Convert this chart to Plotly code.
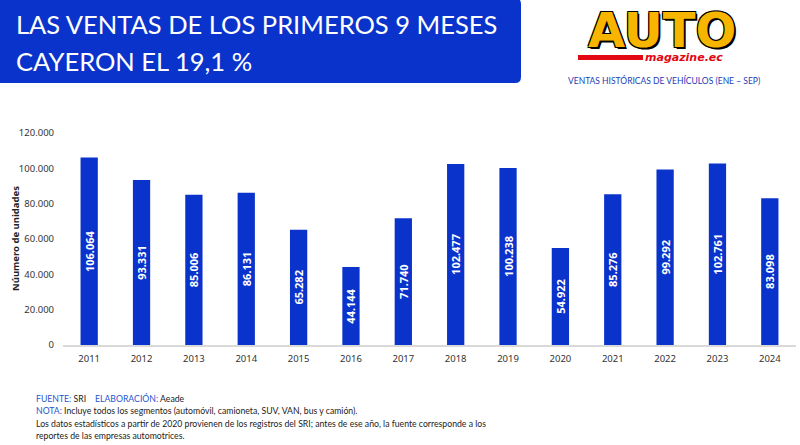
import plotly.graph_objects as go

years = ["2011", "2012", "2013", "2014", "2015", "2016", "2017", "2018",
         "2019", "2020", "2021", "2022", "2023", "2024"]
sales = [106064, 93331, 85006, 86131, 65282, 44144, 71740, 102477,
         100238, 54922, 85276, 99292, 102761, 83098]
y_ticks = [0, 20000, 40000, 60000, 80000, 100000, 120000]

W, H = 800, 445
L, R, T, B = 63, 4, 133, 100
PW, PH = W - L - R, H - T - B


def X(px):
    return (px - L) / PW


def Y(py):
    return (H - B - py) / PH


BLUE = "#0a33cc"

fig = go.Figure(go.Bar(
    x=years, y=sales, width=0.33,
    marker=dict(color=BLUE, line=dict(width=0)),
    texttemplate="%{y:,.0f}", textposition="inside", textangle=-90,
    insidetextanchor="middle", constraintext="none",
    textfont=dict(family="Noto Sans", size=11, color="white", weight="bold"),
    hoverinfo="skip",
))

# Title box with rounded right corners
x0, x1, y0, y1, r = -2, 521, -2, 83, 6
path = (f"M {X(x0)},{Y(y0)} L {X(x1 - r)},{Y(y0)} Q {X(x1)},{Y(y0)} {X(x1)},{Y(y0 + r)} "
        f"L {X(x1)},{Y(y1 - r)} Q {X(x1)},{Y(y1)} {X(x1 - r)},{Y(y1)} L {X(x0)},{Y(y1)} Z")
shapes = [
    dict(type="path", xref="paper", yref="paper", path=path,
         fillcolor=BLUE, line=dict(width=0), layer="above"),
    # red bar in logo
    dict(type="rect", xref="paper", yref="paper", x0=X(578), x1=X(643),
         y0=Y(60), y1=Y(55), fillcolor="#e30613", line=dict(width=0)),
]

ann = []
title_font = dict(family="Lato", size=25.5, color="white")
ann.append(dict(text="LAS VENTAS DE LOS PRIMEROS 9 MESES", x=X(14), y=Y(24),
                xref="paper", yref="paper", xanchor="left", yanchor="middle",
                showarrow=False, font=title_font))
ann.append(dict(text="CAYERON EL 19,1 %", x=X(14), y=Y(61),
                xref="paper", yref="paper", xanchor="left", yanchor="middle",
                showarrow=False, font=title_font))

# Logo
ann.append(dict(text="AUTO", x=X(662), y=Y(30), xref="paper", yref="paper",
                xanchor="center", yanchor="middle", showarrow=False, borderpad=0,
                font=dict(family="DejaVu Sans", size=48, color="#f7b500", weight="bold",
                          shadow="1px 1px 0 #000, -1px -1px 0 #000, 1px -1px 0 #000, -1px 1px 0 #000, 2px 2px 0 #000")))
ann.append(dict(text="magazine.ec", x=X(644), y=Y(58), xref="paper", yref="paper",
                xanchor="left", yanchor="middle", showarrow=False, borderpad=0,
                font=dict(family="DejaVu Sans", size=11, color="#e30613", weight="bold",
                          style="italic")))
ann.append(dict(text="VENTAS HISTÓRICAS DE VEHÍCULOS (ENE – SEP)", x=X(664), y=Y(80),
                xref="paper", yref="paper", xanchor="center", yanchor="middle",
                showarrow=False, font=dict(family="Lato", size=8.5, color="#1a3cb8")))

# Y axis title
ann.append(dict(text="<b>Núumero de unidades</b>", x=X(15), y=Y(239),
                xref="paper", yref="paper", xanchor="center", yanchor="middle",
                textangle=-90, showarrow=False,
                font=dict(family="Noto Sans", size=9.5, color="#222")))

# Footer
fb = "#1f55d0"
foot_font = dict(family="Lato", size=8.7, color="#222")
lines = [
    f"<span style='color:{fb}'>FUENTE:</span> SRI    <span style='color:{fb}'>ELABORACIÓN:</span> Aeade",
    f"<span style='color:{fb}'>NOTA:</span> Incluye todos los segmentos (automóvil, camioneta, SUV, VAN, bus y camión).",
    "Los datos estadísticos a partir de 2020 provienen de los registros del SRI; antes de ese año, la fuente corresponde a los",
    "reportes de las empresas automotrices.",
]
for i, t in enumerate(lines):
    ann.append(dict(text=t.replace("    ", "&nbsp;&nbsp;&nbsp;&nbsp;"), x=X(34), y=Y(398 + i * 12.6),
                    xref="paper", yref="paper", xanchor="left", yanchor="middle",
                    showarrow=False, font=foot_font))

fig.update_layout(
    width=W, height=H, margin=dict(l=L, r=R, t=T, b=B),
    paper_bgcolor="white", plot_bgcolor="white",
    separators=",.",
    showlegend=False,
    shapes=shapes, annotations=ann,
    xaxis=dict(type="category", showgrid=False, showline=True, linecolor="#d9d9d9",
               linewidth=1.5, ticks="", ticklabelstandoff=4,
               tickfont=dict(family="Noto Sans", size=9.5, color="#333"),
               fixedrange=True),
    yaxis=dict(range=[0, 120000], tickvals=y_ticks, tickformat=",.0f", showgrid=False,
               zeroline=False, showline=False, ticks="", ticklabelstandoff=8,
               tickfont=dict(family="Noto Sans", size=9.5, color="#333"), fixedrange=True),
)

fig.write_html("out.html", config={"displayModeBar": False})
